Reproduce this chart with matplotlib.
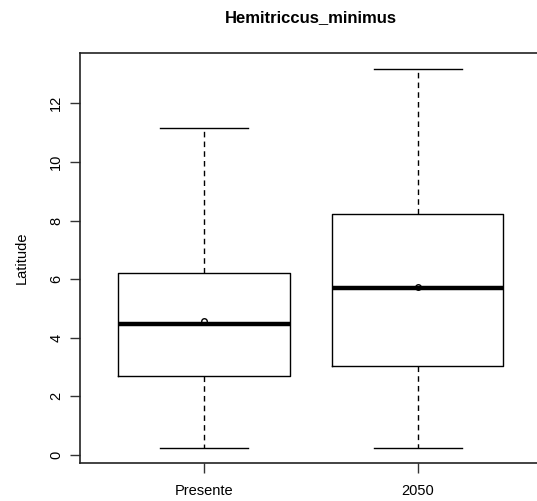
import matplotlib
matplotlib.use("Agg")
from matplotlib import pyplot as plt

# boxplot stats
labels = ["Presente", "2050"]
whislo = [0.24, 0.23]
q1 = [2.69, 3.03]
med = [4.47, 5.71]
q3 = [6.20, 8.21]
whishi = [11.16, 13.19]
means = [4.56, 5.72]
yticks = [0, 2, 4, 6, 8, 10, 12]

plt.rcParams['font.family'] = ['Liberation Sans', 'DejaVu Sans']

fig = plt.figure(figsize=(5.37, 5.01), dpi=100)
ax = fig.add_axes([80/537, 38/501, 462/537, 410/501])

stats = []
for i in range(len(labels)):
    stats.append(dict(label=labels[i], whislo=whislo[i], q1=q1[i], med=med[i],
                      q3=q3[i], whishi=whishi[i], mean=means[i], fliers=[]))

ax.bxp(stats, positions=[1, 2], widths=0.8, showmeans=True, manage_ticks=False,
       boxprops=dict(color='black', linewidth=1),
       whiskerprops=dict(color='black', linewidth=1, linestyle=(0, (4, 3))),
       capprops=dict(color='black', linewidth=1),
       capwidths=0.41,
       medianprops=dict(color='black', linewidth=3.2, solid_capstyle='butt'),
       meanprops=dict(marker='o', markerfacecolor='none', markeredgecolor='black',
                      markersize=4, markeredgewidth=1))

ax.set_xlim(0.42, 2.58)
ax.set_ylim(-0.28, 13.72)
ax.set_xticks([1, 2])
ax.set_xticklabels(labels, fontsize=10.5)
ax.set_yticks(yticks)
ax.set_yticklabels([str(t) for t in yticks], fontsize=10.5, rotation=90, va='center')
ax.tick_params(length=7, width=1, color='#333333', pad=5)
ax.tick_params(axis='x', pad=8)
for s in ax.spines.values():
    s.set_linewidth(1.2)
    s.set_color('#222222')

ax.set_ylabel("Latitude", fontsize=10.5, labelpad=15)
ax.set_title("Hemitriccus_minimus", fontsize=12, fontweight='bold', pad=22)

plt.savefig("out.png", dpi=100)
